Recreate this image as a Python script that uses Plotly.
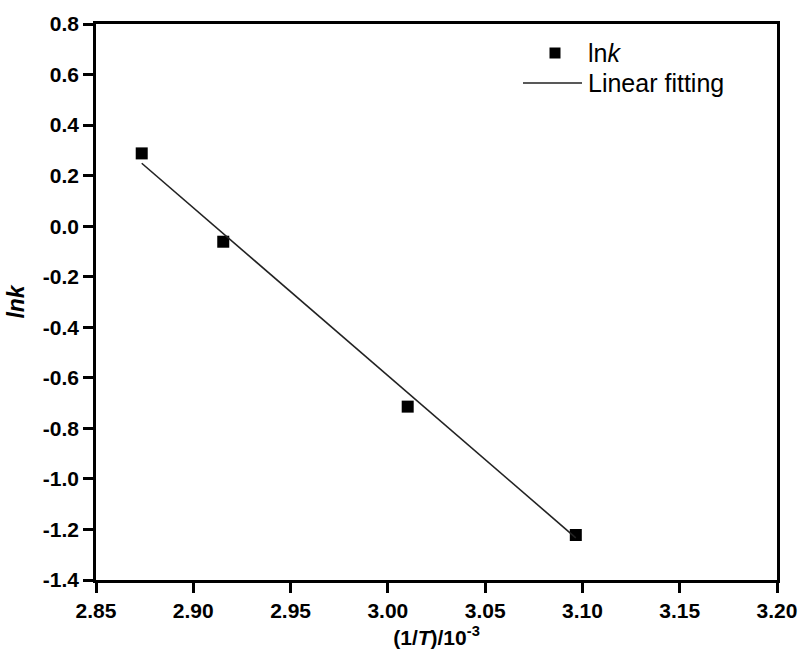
import plotly.graph_objects as go

inv_T = [2.8735, 2.9154, 3.0102, 3.0966]
ln_k = [0.288, -0.0615, -0.714, -1.222]
fit_x = [2.8735, 3.0966]
fit_y = [0.249, -1.233]

x_ticks = [2.85, 2.90, 2.95, 3.00, 3.05, 3.10, 3.15, 3.20]
y_ticks = [0.8, 0.6, 0.4, 0.2, 0.0, -0.2, -0.4, -0.6, -0.8, -1.0, -1.2, -1.4]

legend_labels = ["ln<i>k</i>", "Linear fitting"]

FONT = "Liberation Sans, Arial, sans-serif"
L, R, T, B = 96, 23, 24, 77
W, H = 800, 657
PW, PH = W - L - R, H - T - B


def px(xp):
    return (xp - L) / PW


def py(yp):
    return (H - B - yp) / PH


fig = go.Figure()
fig.add_trace(go.Scatter(
    x=inv_T, y=ln_k, mode="markers", name=legend_labels[0],
    marker=dict(symbol="square", size=12, color="black"),
))
fig.add_trace(go.Scatter(
    x=fit_x, y=fit_y, mode="lines", name=legend_labels[1],
    line=dict(color="#222222", width=1.6),
))

# custom legend
fig.add_shape(type="rect", xref="paper", yref="paper",
              x0=px(549.5), x1=px(560.5), y0=py(58.5), y1=py(47.5),
              fillcolor="black", line=dict(width=0))
fig.add_shape(type="line", xref="paper", yref="paper",
              x0=px(523), x1=px(582), y0=py(83), y1=py(83),
              line=dict(color="#222222", width=1.6))
for lab, ypix in zip(legend_labels, [53, 83]):
    fig.add_annotation(xref="paper", yref="paper", x=px(586), y=py(ypix),
                       text=lab, showarrow=False, xanchor="left", yanchor="middle",
                       font=dict(family=FONT, size=25, color="black"))

axis_common = dict(
    showline=True, linecolor="black", linewidth=2.5, mirror=True,
    ticks="outside", ticklen=10, tickwidth=2.5, tickcolor="black",
    showgrid=False, zeroline=False, automargin=False,
    tickfont=dict(family=FONT, size=21, color="black", weight="bold"),
)

fig.update_layout(
    width=W, height=H,
    margin=dict(l=L, r=R, t=T, b=B),
    paper_bgcolor="white", plot_bgcolor="white",
    showlegend=False,
    xaxis=dict(
        range=[2.85, 3.20], tickvals=x_ticks,
        ticktext=[f"{v:.2f}" for v in x_ticks],
        title=dict(text="<b>(1/<i>T</i>)/10<sup>-3</sup></b>",
                   font=dict(family=FONT, size=21, color="black"), standoff=10),
        **axis_common,
    ),
    yaxis=dict(
        range=[-1.4, 0.8], tickvals=y_ticks,
        ticktext=[f"{v:.1f}" for v in y_ticks],
        title=dict(text="<b><i>lnk</i></b>",
                   font=dict(family=FONT, size=23, color="black"), standoff=12),
        **axis_common,
    ),
)

fig.write_html("out.html")
